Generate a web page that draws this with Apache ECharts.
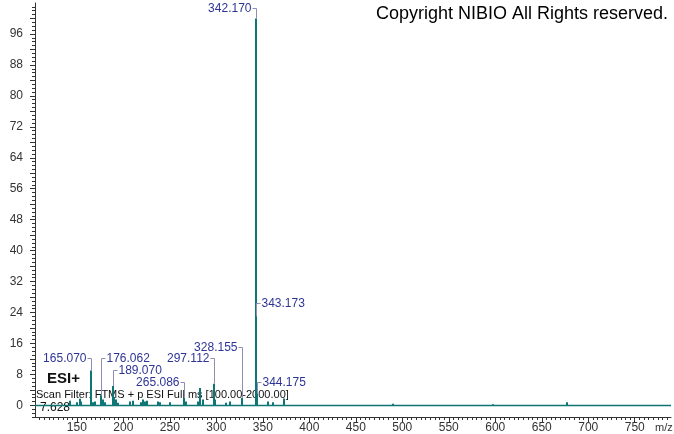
<!DOCTYPE html>
<html>
<head>
<meta charset="utf-8">
<script src="https://cdn.jsdelivr.net/npm/echarts@6/dist/echarts.min.js"></script>
<style>
html,body{margin:0;padding:0;background:#fff;}
#chart{width:674px;height:434px;}
</style>
</head>
<body>
<div id="chart"></div>
<script>
// ---- data ----
const mzValues = [142.6, 150.1, 153.0, 155.0, 165.070, 167.1, 170.0, 176.062, 178.0, 180.1,
  189.070, 190.1, 192.1, 194.0, 207.1, 210.1, 219.1, 221.1, 223.1, 225.1,
  237.1, 239.1, 250.1, 265.086, 267.1, 280.1, 282.1, 286.1, 297.112, 299.1,
  310.1, 315.1, 328.155, 342.170, 343.173, 344.175, 355.1, 361.1, 373.2,
  490.3, 597.3, 677.3];
const intensities = [1.2, 0.8, 1.7, 1.0, 9.0, 0.8, 1.0, 2.6, 1.5, 0.8,
  5.0, 2.2, 1.5, 0.7, 1.0, 1.2, 0.8, 1.5, 1.0, 1.2,
  1.0, 0.8, 0.8, 2.0, 1.0, 1.0, 4.5, 1.5, 5.6, 1.5,
  0.7, 1.0, 2.0, 100, 23.0, 3.0, 1.0, 0.8, 1.8,
  0.4, 0.3, 0.8];
const labelMz = [342.170, 343.173, 165.070, 176.062, 189.070, 265.086, 297.112, 328.155, 344.175];
const labelText = ['342.170', '343.173', '165.070', '176.062', '189.070', '265.086', '297.112', '328.155', '344.175'];
const labelIntensity = [100, 23.0, 9.0, 2.6, 5.0, 2.0, 5.6, 2.0, 3.0];
const labelLevel = [102.7, 26.5, 12.25, 12.25, 9.15, 6.05, 12.25, 15.1, 6.05];
const labelSide = ['left', 'right', 'left', 'right', 'right', 'left', 'left', 'left', 'right'];
const xTickLabels = [150, 200, 250, 300, 350, 400, 450, 500, 550, 600, 650, 700, 750];
const yTickLabels = [0, 8, 16, 24, 32, 40, 48, 56, 64, 72, 80, 88, 96];

// ---- ticks ----
const X_MIN = 105, X_MAX = 789, Y_MIN = -3, Y_MAX = 104;
const xMinor = []; for (let v = 110; v <= 785; v += 5) xMinor.push(v);
const yMinor = []; for (let v = -3; v <= 103; v += 1) yMinor.push(v);
const yMajor = []; for (let v = 0; v <= 100; v += 4) yMajor.push(v);

const TEAL = '#0f7676';
const AXIS = '#333333';
const FONT = "'Liberation Sans', Arial, sans-serif";

const peakData = mzValues.map((m, i) => [m, intensities[i]]);
const labelData = labelMz.map((m, i) => [m, labelIntensity[i], labelLevel[i], labelSide[i] === 'left' ? 0 : 1, i]);

const chart = echarts.init(document.getElementById('chart'), null, {renderer: 'canvas'});
chart.setOption({
  animation: false,
  backgroundColor: '#ffffff',
  grid: {left: 35, right: 3, top: 3, bottom: 17, containLabel: false},
  xAxis: [
    {type: 'value', min: X_MIN, max: X_MAX, position: 'bottom',
     axisLine: {show: true, onZero: false, lineStyle: {color: AXIS, width: 1}},
     axisTick: {show: true, customValues: xMinor, length: 3, lineStyle: {color: AXIS}},
     axisLabel: {show: false}, splitLine: {show: false}},
    {type: 'value', min: X_MIN, max: X_MAX, position: 'bottom',
     axisLine: {show: false, onZero: false},
     axisTick: {show: true, customValues: xTickLabels, length: 5, lineStyle: {color: AXIS}},
     axisLabel: {show: true, customValues: xTickLabels, margin: 5, color: AXIS, fontSize: 12, fontFamily: FONT},
     splitLine: {show: false}}
  ],
  yAxis: [
    {type: 'value', min: Y_MIN, max: Y_MAX, position: 'left',
     axisLine: {show: true, onZero: false, lineStyle: {color: AXIS, width: 1}},
     axisTick: {show: true, customValues: yMinor, length: 3, lineStyle: {color: AXIS}},
     axisLabel: {show: false}, splitLine: {show: false}},
    {type: 'value', min: Y_MIN, max: Y_MAX, position: 'left',
     axisLine: {show: false, onZero: false},
     axisTick: {show: true, customValues: yMajor, length: 5, lineStyle: {color: AXIS}},
     axisLabel: {show: true, customValues: yTickLabels, margin: 12, color: AXIS, fontSize: 12, fontFamily: FONT},
     splitLine: {show: false}}
  ],
  graphic: [
    {type: 'text', right: 6, top: 5, style: {text: 'Copyright NIBIO All Rights reserved.', font: '18px ' + FONT, fill: '#000'}},
    {type: 'text', left: 47, top: 371, z: 1, style: {text: 'ESI+', font: 'bold 15px ' + FONT, fill: '#111'}},
    {type: 'text', left: 36, top: 389, z: 1, style: {text: 'Scan Filter: FTMS + p ESI Full ms [100.00-2000.00]', font: '11px ' + FONT, fill: '#111'}},
    {type: 'text', left: 40, top: 402, z: 1, style: {text: '7.628', font: '12px ' + FONT, fill: '#111'}},
    {type: 'text', left: 655, top: 422, style: {text: 'm/z', font: '11px ' + FONT, fill: AXIS}}
  ],
  series: [
    {type: 'line', xAxisIndex: 0, yAxisIndex: 0, data: [[X_MIN, 0], [X_MAX, 0]], symbol: 'none',
     lineStyle: {color: TEAL, width: 1.5}, z: 3, silent: true},
    {type: 'custom', xAxisIndex: 0, yAxisIndex: 0, data: peakData, z: 4, silent: true,
     renderItem: function (params, api) {
       const p0 = api.coord([api.value(0), 0]);
       const p1 = api.coord([api.value(0), api.value(1)]);
       const x = Math.round(p0[0]) - 1;
       return {type: 'rect', shape: {x: x, y: p1[1], width: 2, height: p0[1] - p1[1]},
               style: {fill: TEAL}};
     }},
    {type: 'custom', xAxisIndex: 0, yAxisIndex: 0, data: labelData, z: 5, silent: true,
     renderItem: function (params, api) {
       const m = api.value(0), inten = api.value(1), lvl = api.value(2), side = api.value(3);
       const idx = api.value(4);
       const pk = api.coord([m, inten]);
       const ly = Math.round(api.coord([m, lvl])[1]) + 0.5;
       const px = Math.round(pk[0]) + 0.5;
       const dir = side === 0 ? -1 : 1;
       return {type: 'group', children: [
         {type: 'polyline', shape: {points: [[px + dir * 4, ly], [px, ly], [px, pk[1]]]},
          style: {stroke: '#8e8eb4', lineWidth: 1, fill: null}},
         {type: 'text', x: px + dir * 5, y: ly,
          style: {text: labelText[idx], font: '12px ' + FONT, fill: '#2e3496',
                  align: side === 0 ? 'right' : 'left', verticalAlign: 'middle'}}
       ]};
     }}
  ]
});
</script>
</body>
</html>
